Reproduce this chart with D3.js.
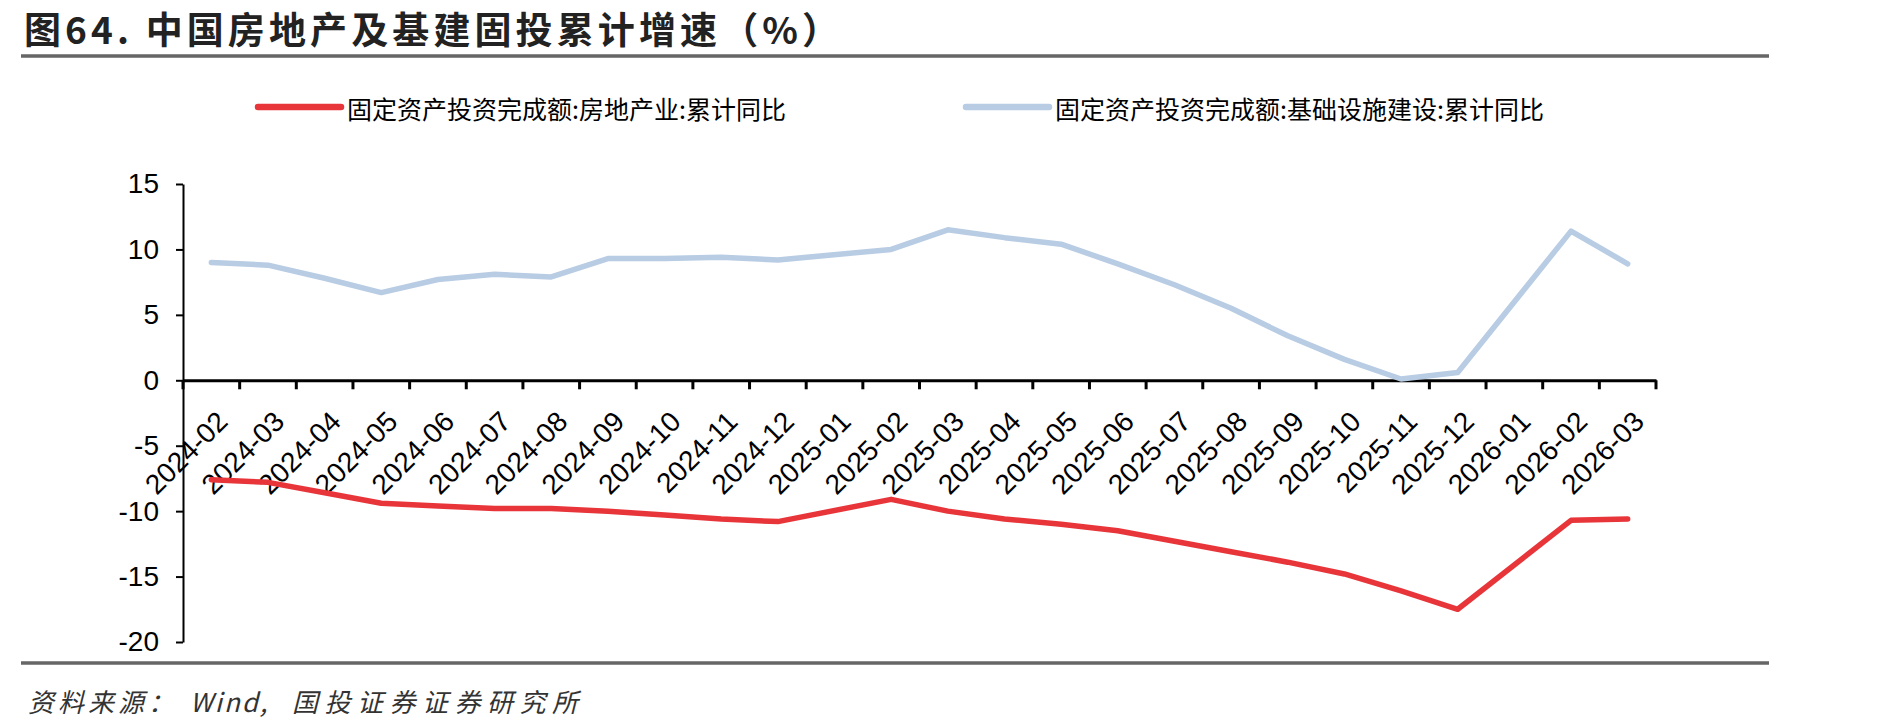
<!DOCTYPE html>
<html>
<head>
<meta charset="utf-8">
<script src="https://cdn.jsdelivr.net/npm/d3@7"></script>
<style>
  html, body { margin: 0; padding: 0; background: #fff; }
  svg { display: block; }
</style>
</head>
<body>
<svg id="chart" width="1888" height="723"></svg>
<script>
const titleText = "图64. 中国房地产及基建固投累计增速（%）";
const sourceParts = ["资料来源：", "Wind,", "国投证券证券研究所"];
const seriesNames = ["固定资产投资完成额:房地产业:累计同比", "固定资产投资完成额:基础设施建设:累计同比"];
const seriesColors = ["#E8353A", "#B8CCE4"];

const categories = [
  "2024-02","2024-03","2024-04","2024-05","2024-06","2024-07","2024-08","2024-09",
  "2024-10","2024-11","2024-12","2025-01","2025-02","2025-03","2025-04","2025-05",
  "2025-06","2025-07","2025-08","2025-09","2025-10","2025-11","2025-12","2026-01",
  "2026-02","2026-03"
];
const realEstate = [-7.6, -7.8, -8.6, -9.4, -9.6, -9.8, -9.8, -10.0, -10.3, -10.6, -10.8, null,
  -9.1, -10.0, -10.6, -11.0, -11.5, -12.3, -13.1, -13.9, -14.8, -16.1, -17.5, null, -10.7, -10.6];
const infrastructure = [9.0, 8.8, 7.8, 6.7, 7.7, 8.1, 7.9, 9.3, 9.3, 9.4, 9.2, null,
  10.0, 11.5, 10.9, 10.4, 8.9, 7.3, 5.5, 3.4, 1.6, 0.1, 0.6, null, 11.4, 8.9];
const yTicks = [-20, -15, -10, -5, 0, 5, 10, 15];

const svg = d3.select("#chart");
const cjk = "'Noto Sans CJK SC', 'Noto Sans', sans-serif";
const latin = "'Liberation Sans', Arial, sans-serif";

// Title
svg.append("text")
  .attr("x", 24).attr("y", 28)
  .attr("dominant-baseline", "central")
  .attr("font-family", cjk).attr("font-weight", 700)
  .attr("font-size", 37).attr("fill", "#222")
  .attr("textLength", 815).attr("lengthAdjust", "spacing")
  .text(titleText);
svg.append("line").attr("x1", 21).attr("x2", 1769).attr("y1", 56).attr("y2", 56)
  .attr("stroke", "#666").attr("stroke-width", 3.5);

// Scales
const x = d3.scaleBand().domain(categories).range([183, 1656]).padding(0);
const y = d3.scaleLinear().domain([-20, 15]).range([642, 184]);

// Y axis
const yAxis = svg.append("g").attr("transform", `translate(${x.range()[0]},0)`)
  .call(d3.axisLeft(y).tickValues(yTicks).tickFormat(d => String(d))
    .tickSize(7).tickPadding(17).tickSizeOuter(0));
yAxis.select(".domain").attr("stroke", "#000").attr("stroke-width", 2);
yAxis.selectAll(".tick line").attr("stroke", "#000").attr("stroke-width", 2);
yAxis.selectAll(".tick text").attr("font-family", latin).attr("font-size", 28).attr("fill", "#000");

// X axis at 0
const xAxis = svg.append("g").attr("transform", `translate(0,${y(0)})`)
  .call(d3.axisBottom(x).tickSize(0).tickSizeOuter(0));
xAxis.select(".domain").attr("stroke", "#000").attr("stroke-width", 3);
xAxis.selectAll(".tick text")
  .attr("font-family", latin).attr("font-size", 28).attr("fill", "#000")
  .attr("text-anchor", "end").attr("x", 0).attr("y", 0).attr("dy", 0)
  .attr("transform", "translate(18,43) rotate(-45)");
// boundary tick marks
const boundaries = categories.map(c => x(c)).concat([x.range()[1]]);
xAxis.selectAll(".btick").data(boundaries).enter().append("line")
  .attr("class", "btick")
  .attr("x1", d => d).attr("x2", d => d).attr("y1", 0).attr("y2", 9)
  .attr("stroke", "#000").attr("stroke-width", 3);

// Lines
const line = d3.line()
  .x(d => x(d.c) + x.bandwidth() / 2)
  .y(d => y(d.v));
[realEstate, infrastructure].forEach((vals, i) => {
  const pts = categories.map((c, j) => ({ c, v: vals[j] })).filter(d => d.v !== null);
  svg.append("path").datum(pts)
    .attr("d", line)
    .attr("fill", "none")
    .attr("stroke", seriesColors[i])
    .attr("stroke-width", 5.5)
    .attr("stroke-linejoin", "round")
    .attr("stroke-linecap", "round");
});

// Legend
const legendX = [258, 966];
seriesNames.forEach((name, i) => {
  svg.append("line").attr("x1", legendX[i]).attr("x2", legendX[i] + 83)
    .attr("y1", 107).attr("y2", 107)
    .attr("stroke", seriesColors[i]).attr("stroke-width", 6.5).attr("stroke-linecap", "round");
  svg.append("text").attr("x", legendX[i] + 89).attr("y", 108)
    .attr("dominant-baseline", "central")
    .attr("font-family", cjk).attr("font-size", 25).attr("fill", "#000")
    .text(name);
});

// Footer
svg.append("line").attr("x1", 21).attr("x2", 1769).attr("y1", 663).attr("y2", 663)
  .attr("stroke", "#666").attr("stroke-width", 3.5);
const footer = svg.append("text").attr("y", 700)
  .attr("dominant-baseline", "central")
  .attr("font-family", cjk).attr("font-style", "italic")
  .attr("font-size", 26).attr("fill", "#333");
const footerX = [28, 190, 292];
const footerSpacing = [4, 2, 6.5];
sourceParts.forEach((p, i) => {
  footer.append("tspan").attr("x", footerX[i]).attr("letter-spacing", footerSpacing[i]).text(p);
});
</script>
</body>
</html>
